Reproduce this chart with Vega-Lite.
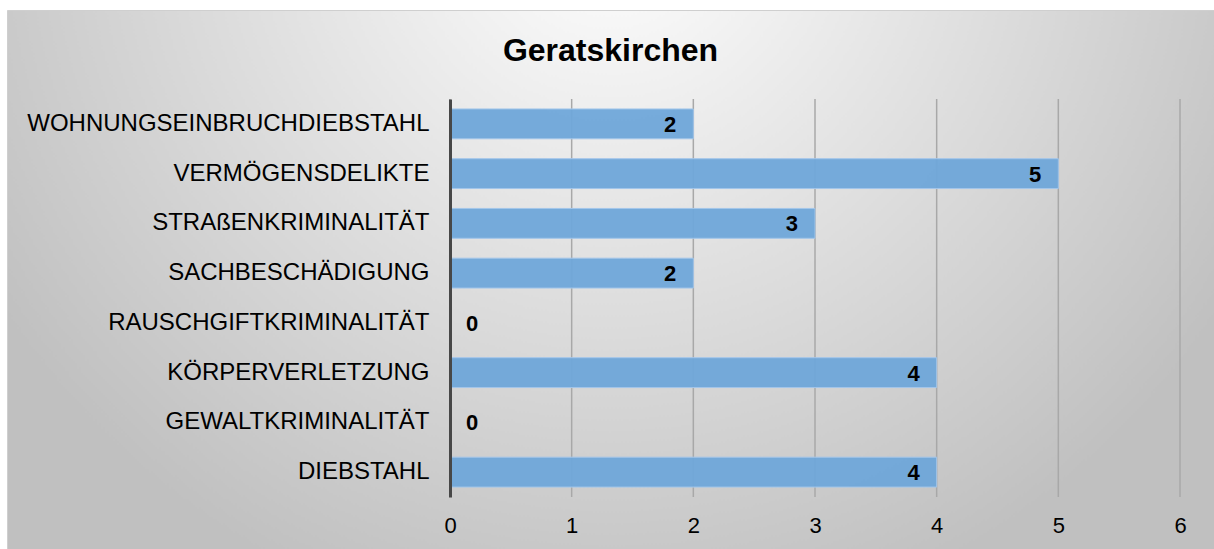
{
  "$schema": "https://vega.github.io/schema/vega-lite/v6.json",
  "autosize": "none",
  "padding": {"left": 7, "top": 10, "right": 0, "bottom": 0},
  "width": 1207,
  "height": 539,
  "background": "#ffffff",
  "title": {
    "text": "Geratskirchen",
    "font": "Liberation Sans",
    "fontSize": 32,
    "fontWeight": "bold",
    "color": "#000000",
    "anchor": "middle",
    "frame": "group",
    "orient": "top",
    "baseline": "alphabetic",
    "offset": -83
  },
  "config": {
    "view": {
      "fill": {
        "gradient": "radial",
        "x1": 0.5, "y1": 0.2, "r1": 0,
        "x2": 0.5, "y2": 0.2, "r2": 0.6,
        "stops": [
          {"offset": 0, "color": "#ffffff"},
          {"offset": 1, "color": "#c0c0c0"}
        ]
      },
      "stroke": "#cfcfcf",
      "strokeWidth": 1
    },
    "font": "Liberation Sans"
  },
  "datasets": {
    "delikte": [
      {"kategorie": "WOHNUNGSEINBRUCHDIEBSTAHL", "anzahl": 2},
      {"kategorie": "VERMÖGENSDELIKTE", "anzahl": 5},
      {"kategorie": "STRAßENKRIMINALITÄT", "anzahl": 3},
      {"kategorie": "SACHBESCHÄDIGUNG", "anzahl": 2},
      {"kategorie": "RAUSCHGIFTKRIMINALITÄT", "anzahl": 0},
      {"kategorie": "KÖRPERVERLETZUNG", "anzahl": 4},
      {"kategorie": "GEWALTKRIMINALITÄT", "anzahl": 0},
      {"kategorie": "DIEBSTAHL", "anzahl": 4}
    ],
    "gitter": [
      {"wert": 0}, {"wert": 1}, {"wert": 2}, {"wert": 3}, {"wert": 4}, {"wert": 5}, {"wert": 6}
    ]
  },
  "layer": [
    {
      "data": {"name": "gitter"},
      "mark": {"type": "rule", "color": "#a8a8a8", "strokeWidth": 1.5, "yOffset": -24.875, "y2Offset": 24.875},
      "encoding": {
        "x": {"field": "wert", "type": "quantitative"},
        "y": {"datum": "WOHNUNGSEINBRUCHDIEBSTAHL"},
        "y2": {"datum": "DIEBSTAHL"}
      }
    },
    {
      "data": {"name": "delikte"},
      "transform": [{"filter": "datum.anzahl > 0"}],
      "mark": {"type": "bar", "color": "#6fa6d9", "stroke": "#a3c6ea", "strokeWidth": 1, "fillOpacity": 0.95},
      "encoding": {
        "x": {"field": "anzahl", "type": "quantitative"},
        "y": {"field": "kategorie", "type": "nominal"}
      }
    },
    {
      "data": {"name": "delikte"},
      "transform": [{"filter": "datum.anzahl > 0"}],
      "mark": {"type": "text", "align": "right", "baseline": "middle", "dx": -17, "dy": 1, "fontSize": 22, "fontWeight": "bold", "color": "#000000", "font": "Liberation Sans"},
      "encoding": {
        "x": {"field": "anzahl", "type": "quantitative"},
        "y": {"field": "kategorie", "type": "nominal"},
        "text": {"field": "anzahl", "type": "quantitative"}
      }
    },
    {
      "data": {"name": "delikte"},
      "transform": [{"filter": "datum.anzahl == 0"}],
      "mark": {"type": "text", "align": "left", "baseline": "middle", "dx": 16, "dy": 1, "fontSize": 22, "fontWeight": "bold", "color": "#000000", "font": "Liberation Sans"},
      "encoding": {
        "x": {"field": "anzahl", "type": "quantitative"},
        "y": {"field": "kategorie", "type": "nominal"},
        "text": {"field": "anzahl", "type": "quantitative"}
      }
    }
  ],
  "resolve": {"scale": {"x": "shared", "y": "shared"}},
  "encoding": {
    "y": {
      "type": "nominal",
      "scale": {
        "domain": ["WOHNUNGSEINBRUCHDIEBSTAHL", "VERMÖGENSDELIKTE", "STRAßENKRIMINALITÄT", "SACHBESCHÄDIGUNG", "RAUSCHGIFTKRIMINALITÄT", "KÖRPERVERLETZUNG", "GEWALTKRIMINALITÄT", "DIEBSTAHL"],
        "range": [89, 487], "paddingInner": 0.4, "paddingOuter": 0.2
      },
      "axis": {
        "title": null,
        "orient": "left",
        "offset": -443,
        "zindex": 1,
        "domain": true,
        "domainColor": "#474747",
        "domainWidth": 3,
        "ticks": false,
        "grid": false,
        "labelPadding": 21,
        "labelFontSize": 24,
        "labelColor": "#000000",
        "labelFont": "Liberation Sans",
        "labelLimit": 600
      }
    },
    "x": {
      "type": "quantitative",
      "scale": {"domain": [0, 6], "range": [443, 1173], "nice": false, "zero": true},
      "axis": {
        "title": null,
        "orient": "bottom",
        "offset": -52,
        "values": [0, 1, 2, 3, 4, 5, 6],
        "format": "d",
        "domain": false,
        "ticks": false,
        "grid": false,
        "labelFlush": false,
        "labelPadding": 18,
        "labelFontSize": 22,
        "labelColor": "#000000",
        "labelFont": "Liberation Sans"
      }
    }
  }
}
